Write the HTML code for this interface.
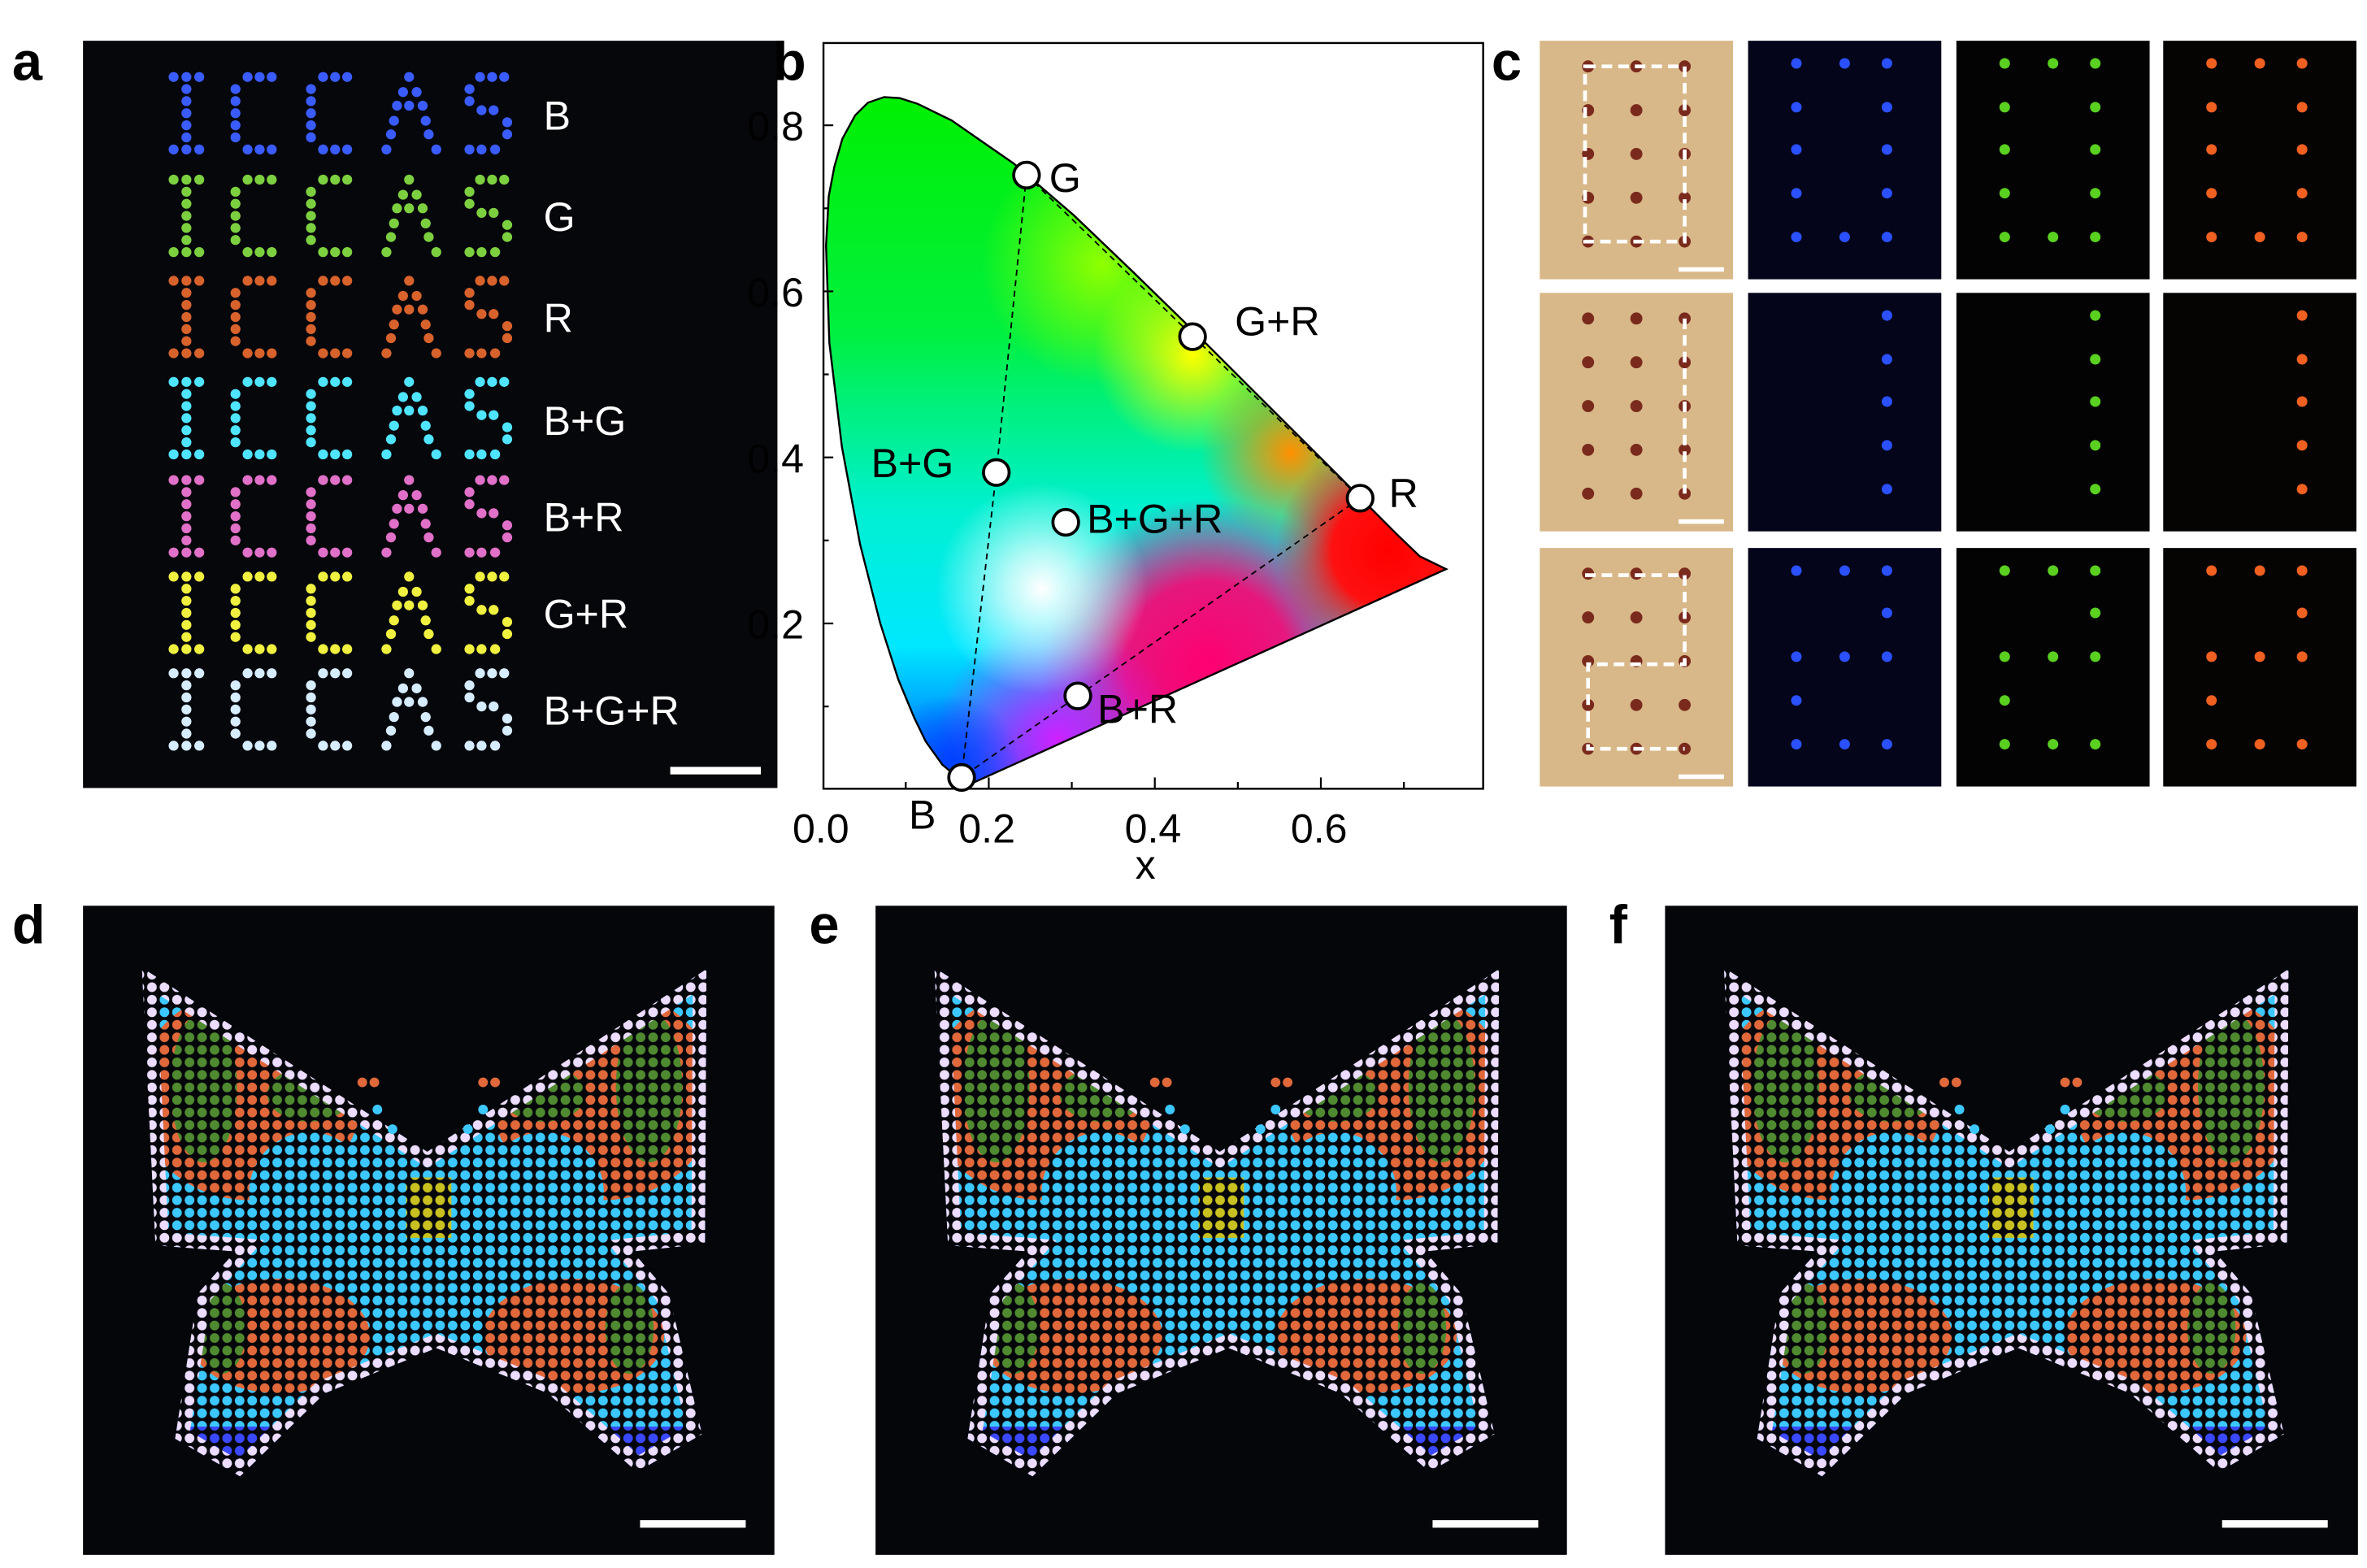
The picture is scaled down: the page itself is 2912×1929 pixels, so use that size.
<!DOCTYPE html>
<html><head><meta charset="utf-8"><style>
html,body{margin:0;padding:0;background:#fff;}
svg{display:block;}
text{font-family:"Liberation Sans",Arial,sans-serif;}
</style></head><body>
<svg width="2912" height="1929" viewBox="0 0 1568 1038.7" preserveAspectRatio="none" xmlns="http://www.w3.org/2000/svg">
<defs>
<clipPath id="loc"><path id="locp" d="M640.8,520.3 L624.2,506.5 L613.2,491.1 L605.5,475.2 L595,449.9 L583,412.5 L569.8,360.8 L557.7,295.9 L549.4,227.1 L547.2,162.8 L549,130 L552.7,110.5 L558,92 L566.5,76.4 L575,68 L585.7,64.3 L596,65 L607.7,68.7 L630.3,79.7 L671.5,108.3 L711.1,142.4 L750.2,179.8 L789.2,217.8 L826.6,255.2 L861.3,289.8 L889.9,318.4 L925,353.6 L940.5,368.5 L958,377 Z"/></clipPath>
<linearGradient id="base" x1="0" y1="60" x2="0" y2="520" gradientUnits="userSpaceOnUse">
<stop offset="0" stop-color="#00f000"/><stop offset="0.35" stop-color="#00f040"/><stop offset="0.6" stop-color="#00f0d0"/><stop offset="0.8" stop-color="#00e8ff"/><stop offset="1" stop-color="#0050ff"/></linearGradient>
<radialGradient id="g1" cx="730" cy="175" r="80" gradientUnits="userSpaceOnUse"><stop offset="0" stop-color="#90ff00"/><stop offset="1" stop-color="#90ff00" stop-opacity="0"/></radialGradient>
<radialGradient id="g2" cx="790" cy="235" r="65" gradientUnits="userSpaceOnUse"><stop offset="0" stop-color="#ffff00"/><stop offset="1" stop-color="#ffff00" stop-opacity="0"/></radialGradient>
<radialGradient id="g3" cx="855" cy="300" r="60" gradientUnits="userSpaceOnUse"><stop offset="0" stop-color="#ff9000"/><stop offset="1" stop-color="#ff9000" stop-opacity="0"/></radialGradient>
<radialGradient id="g4" cx="920" cy="365" r="75" gradientUnits="userSpaceOnUse"><stop offset="0" stop-color="#ff0000"/><stop offset="0.5" stop-color="#ff1010"/><stop offset="1" stop-color="#ff2020" stop-opacity="0"/></radialGradient>
<radialGradient id="g5" cx="800" cy="440" r="110" gradientUnits="userSpaceOnUse"><stop offset="0" stop-color="#ff0070"/><stop offset="0.5" stop-color="#ff0070" stop-opacity="0.9"/><stop offset="1" stop-color="#ff0070" stop-opacity="0"/></radialGradient>
<radialGradient id="g6" cx="700" cy="490" r="80" gradientUnits="userSpaceOnUse"><stop offset="0" stop-color="#d020ff"/><stop offset="1" stop-color="#d020ff" stop-opacity="0"/></radialGradient>
<radialGradient id="g7" cx="690" cy="390" r="70" gradientUnits="userSpaceOnUse"><stop offset="0" stop-color="#ffffff"/><stop offset="0.35" stop-color="#ffffff" stop-opacity="0.7"/><stop offset="1" stop-color="#ffffff" stop-opacity="0"/></radialGradient>
<radialGradient id="g8" cx="630" cy="505" r="45" gradientUnits="userSpaceOnUse"><stop offset="0" stop-color="#0040ff"/><stop offset="1" stop-color="#0040ff" stop-opacity="0"/></radialGradient>

<pattern id="pw" width="8.3" height="8.3" patternUnits="userSpaceOnUse"><rect width="8.3" height="8.3" fill="#05060a"/><circle cx="4.15" cy="4.15" r="3.2" fill="#ecdcff"/></pattern>
<pattern id="pc" width="8.3" height="8.3" patternUnits="userSpaceOnUse"><rect width="8.3" height="8.3" fill="#05060a"/><circle cx="4.15" cy="4.15" r="3.2" fill="#3cc8ff"/></pattern>
<pattern id="po" width="8.3" height="8.3" patternUnits="userSpaceOnUse"><rect width="8.3" height="8.3" fill="#05060a"/><circle cx="4.15" cy="4.15" r="3.2" fill="#e0683a"/></pattern>
<pattern id="pg" width="8.3" height="8.3" patternUnits="userSpaceOnUse"><rect width="8.3" height="8.3" fill="#05060a"/><circle cx="4.15" cy="4.15" r="3.2" fill="#4f8a30"/></pattern>
<pattern id="pb" width="8.3" height="8.3" patternUnits="userSpaceOnUse"><rect width="8.3" height="8.3" fill="#05060a"/><circle cx="4.15" cy="4.15" r="3.2" fill="#3a48ff"/></pattern>
<pattern id="py" width="8.3" height="8.3" patternUnits="userSpaceOnUse"><rect width="8.3" height="8.3" fill="#05060a"/><circle cx="4.15" cy="4.15" r="3.2" fill="#c8c020"/></pattern>
<clipPath id="bf"><path d="M39,41 L228,163 L413,42 L412,224 L364,229 L388,257 L410,350 L367,375 L308,323 L234,293 L160,323 L104,378 L61,353 L76,257 L101,229 L48,225 Z"/></clipPath>
<g id="bfly">
 <g clip-path="url(#bf)">
  <rect width="460" height="430" fill="url(#pc)"/>
  <ellipse cx="110" cy="125" rx="75" ry="70" fill="url(#po)"/>
  <ellipse cx="345" cy="125" rx="75" ry="70" fill="url(#po)"/>
  <ellipse cx="80" cy="120" rx="22" ry="50" fill="url(#pg)"/>
  <ellipse cx="375" cy="120" rx="22" ry="50" fill="url(#pg)"/>
  <ellipse cx="150" cy="125" rx="28" ry="18" fill="url(#pg)"/>
  <ellipse cx="305" cy="125" rx="28" ry="18" fill="url(#pg)"/>
  <ellipse cx="150" cy="190" rx="40" ry="40" fill="url(#pc)"/>
  <ellipse cx="305" cy="190" rx="40" ry="40" fill="url(#pc)"/>
  <ellipse cx="130" cy="285" rx="60" ry="38" fill="url(#po)"/>
  <ellipse cx="325" cy="285" rx="60" ry="38" fill="url(#po)"/>
  <ellipse cx="92" cy="280" rx="16" ry="30" fill="url(#pg)"/>
  <ellipse cx="362" cy="280" rx="16" ry="30" fill="url(#pg)"/>
  <rect x="214" y="180" width="30" height="40" fill="url(#py)"/>
  <rect x="0" y="345" width="460" height="85" fill="url(#pb)"/>
  <path d="M39,41 L228,163 L413,42 L412,224 L364,229 L388,257 L410,350 L367,375 L308,323 L234,293 L160,323 L104,378 L61,353 L76,257 L101,229 L48,225 Z" fill="none" stroke="url(#pw)" stroke-width="18"/>
 </g>
 <g fill="#e0683a"><circle cx="185" cy="117" r="3.2"/><circle cx="193" cy="117" r="3.2"/><circle cx="265" cy="117" r="3.2"/><circle cx="273" cy="117" r="3.2"/></g>
 <g fill="#3cc8ff"><circle cx="195" cy="135" r="3.2"/><circle cx="205" cy="148" r="3.2"/><circle cx="265" cy="135" r="3.2"/><circle cx="255" cy="148" r="3.2"/></g>
</g>
<g id="word">
<circle cx="115" cy="0" r="3.3"/><circle cx="123.5" cy="0" r="3.3"/><circle cx="132" cy="0" r="3.3"/>
<circle cx="123.5" cy="8" r="3.3"/><circle cx="123.5" cy="16" r="3.3"/><circle cx="123.5" cy="24" r="3.3"/><circle cx="123.5" cy="32" r="3.3"/><circle cx="123.5" cy="40" r="3.3"/>
<circle cx="115" cy="48" r="3.3"/><circle cx="123.5" cy="48" r="3.3"/><circle cx="132" cy="48" r="3.3"/>
<circle cx="164" cy="0" r="3.3"/><circle cx="172" cy="0" r="3.3"/><circle cx="180" cy="0" r="3.3"/>
<circle cx="156" cy="8" r="3.3"/><circle cx="156" cy="16" r="3.3"/><circle cx="156" cy="24" r="3.3"/><circle cx="156" cy="32" r="3.3"/><circle cx="156" cy="40" r="3.3"/>
<circle cx="164" cy="48" r="3.3"/><circle cx="172" cy="48" r="3.3"/><circle cx="180" cy="48" r="3.3"/>
<circle cx="214" cy="0" r="3.3"/><circle cx="222" cy="0" r="3.3"/><circle cx="230" cy="0" r="3.3"/>
<circle cx="206" cy="8" r="3.3"/><circle cx="206" cy="16" r="3.3"/><circle cx="206" cy="24" r="3.3"/><circle cx="206" cy="32" r="3.3"/><circle cx="206" cy="40" r="3.3"/>
<circle cx="214" cy="48" r="3.3"/><circle cx="222" cy="48" r="3.3"/><circle cx="230" cy="48" r="3.3"/>
<circle cx="271" cy="0" r="3.3"/><circle cx="267" cy="10" r="3.3"/><circle cx="276" cy="10" r="3.3"/>
<circle cx="263" cy="19" r="3.3"/><circle cx="271" cy="19" r="3.3"/><circle cx="280" cy="19" r="3.3"/>
<circle cx="261" cy="29" r="3.3"/><circle cx="282" cy="29" r="3.3"/><circle cx="259" cy="38" r="3.3"/><circle cx="284" cy="38" r="3.3"/>
<circle cx="256" cy="48" r="3.3"/><circle cx="289" cy="48" r="3.3"/>
<circle cx="318" cy="0" r="3.3"/><circle cx="326" cy="0" r="3.3"/><circle cx="334" cy="0" r="3.3"/>
<circle cx="311" cy="8" r="3.3"/><circle cx="311" cy="16" r="3.3"/><circle cx="319" cy="22" r="3.3"/><circle cx="327" cy="22" r="3.3"/>
<circle cx="336" cy="30" r="3.3"/><circle cx="336" cy="38" r="3.3"/>
<circle cx="311" cy="48" r="3.3"/><circle cx="319" cy="48" r="3.3"/><circle cx="328" cy="48" r="3.3"/>
</g>
</defs>

<!-- panel a -->
<rect x="55" y="27" width="460" height="495" fill="#06070b"/>
<use href="#word" y="51" fill="#3a5cff"/>
<use href="#word" y="119" fill="#7cd040"/>
<use href="#word" y="186" fill="#d8622c"/>
<use href="#word" y="253" fill="#4fe4ff"/>
<use href="#word" y="318" fill="#e070c8"/>
<use href="#word" y="382" fill="#f0f040"/>
<use href="#word" y="446" fill="#d6ecff"/>
<g font-size="27" fill="#fff">
<text x="360" y="86">B</text><text x="360" y="153">G</text><text x="360" y="220">R</text>
<text x="360" y="288">B+G</text><text x="360" y="352">B+R</text><text x="360" y="416">G+R</text><text x="360" y="480">B+G+R</text>
</g>
<rect x="444" y="508" width="60" height="5" fill="#fff"/>
<text x="8" y="53" font-size="36" font-weight="bold">a</text>

<!-- panel b -->
<g clip-path="url(#loc)">
 <rect x="540" y="55" width="430" height="475" fill="url(#base)"/>
 <rect x="540" y="55" width="430" height="475" fill="url(#g1)"/>
 <rect x="540" y="55" width="430" height="475" fill="url(#g2)"/>
 <rect x="540" y="55" width="430" height="475" fill="url(#g3)"/>
 <rect x="540" y="55" width="430" height="475" fill="url(#g5)"/>
 <rect x="540" y="55" width="430" height="475" fill="url(#g4)"/>
 <rect x="540" y="55" width="430" height="475" fill="url(#g6)"/>
 <rect x="540" y="55" width="430" height="475" fill="url(#g8)"/>
 <rect x="540" y="55" width="430" height="475" fill="url(#g7)"/>
</g>
<use href="#locp" fill="none" stroke="#000" stroke-width="1.3"/>
<rect x="545.5" y="28.5" width="437" height="494" fill="none" stroke="#000" stroke-width="1.3"/>
<g stroke="#000" stroke-width="1.2">
<line x1="545" y1="83" x2="552" y2="83"/><line x1="545" y1="193" x2="552" y2="193"/><line x1="545" y1="303" x2="552" y2="303"/><line x1="545" y1="413" x2="552" y2="413"/>
<line x1="545" y1="138" x2="549" y2="138"/><line x1="545" y1="248" x2="549" y2="248"/><line x1="545" y1="358" x2="549" y2="358"/><line x1="545" y1="468" x2="549" y2="468"/>
<line x1="655" y1="522" x2="655" y2="515"/><line x1="765" y1="522" x2="765" y2="515"/><line x1="875" y1="522" x2="875" y2="515"/>
<line x1="600" y1="522" x2="600" y2="518"/><line x1="710" y1="522" x2="710" y2="518"/><line x1="820" y1="522" x2="820" y2="518"/><line x1="930" y1="522" x2="930" y2="518"/>
</g>
<g stroke="#000" stroke-width="1" stroke-dasharray="4 3" fill="none">
<path d="M680,116 L660,313 L637,515"/><path d="M680,116 L901,330"/><path d="M901,330 L637,515"/>
</g>
<g fill="#fff" stroke="#000" stroke-width="2">
<circle cx="680" cy="116" r="8.5"/><circle cx="790" cy="223" r="8.5"/><circle cx="901" cy="330" r="8.5"/>
<circle cx="660" cy="313" r="8.5"/><circle cx="706" cy="346" r="8.5"/><circle cx="714" cy="461" r="8.5"/><circle cx="637" cy="515" r="8.5"/>
</g>
<g font-size="27" fill="#000">
<text x="695" y="127">G</text><text x="818" y="222">G+R</text><text x="920" y="336">R</text>
<text x="577" y="316">B+G</text><text x="720" y="353">B+G+R</text><text x="727" y="479">B+R</text><text x="602" y="549">B</text>
<text x="525" y="558">0.0</text><text x="635" y="558">0.2</text><text x="745" y="558">0.4</text><text x="855" y="558">0.6</text>
<text x="752" y="582">x</text>
<text x="495" y="93">0.8</text><text x="495" y="203">0.6</text><text x="495" y="313">0.4</text><text x="495" y="423">0.2</text>
</g>
<text x="512" y="53" font-size="36" font-weight="bold">b</text>

<!-- panel c -->
<text x="988" y="53" font-size="36" font-weight="bold">c</text>
<g id="crow">
<rect x="1020" y="27" width="128" height="158" fill="#d8b888"/>
<rect x="1158" y="27" width="128" height="158" fill="#04051a"/>
<rect x="1296" y="27" width="128" height="158" fill="#030303"/>
<rect x="1433" y="27" width="128" height="158" fill="#060303"/>
<g fill="#7a2a1c">
<circle cx="1052" cy="44" r="4"/><circle cx="1084" cy="44" r="4"/><circle cx="1116" cy="44" r="4"/>
<circle cx="1052" cy="73" r="4"/><circle cx="1084" cy="73" r="4"/><circle cx="1116" cy="73" r="4"/>
<circle cx="1052" cy="102" r="4"/><circle cx="1084" cy="102" r="4"/><circle cx="1116" cy="102" r="4"/>
<circle cx="1052" cy="131" r="4"/><circle cx="1084" cy="131" r="4"/><circle cx="1116" cy="131" r="4"/>
<circle cx="1052" cy="160" r="4"/><circle cx="1084" cy="160" r="4"/><circle cx="1116" cy="160" r="4"/>
</g>
<rect x="1112" y="177" width="30" height="3" fill="#fff"/>
</g>
<use href="#crow" y="167"/><use href="#crow" y="336"/>
<g fill="none" stroke="#fff" stroke-width="2.5" stroke-dasharray="7 4">
<rect x="1050" y="44" width="66" height="116"/>
<path d="M1116,211 V327"/>
<path d="M1050,381 H1116 V440 H1052 V496 H1116"/>
</g>
<g id="d0">
<circle cx="1190" cy="42" r="3.5"/><circle cx="1222" cy="42" r="3.5"/><circle cx="1250" cy="42" r="3.5"/>
<circle cx="1190" cy="71" r="3.5"/><circle cx="1250" cy="71" r="3.5"/>
<circle cx="1190" cy="99" r="3.5"/><circle cx="1250" cy="99" r="3.5"/>
<circle cx="1190" cy="128" r="3.5"/><circle cx="1250" cy="128" r="3.5"/>
<circle cx="1190" cy="157" r="3.5"/><circle cx="1222" cy="157" r="3.5"/><circle cx="1250" cy="157" r="3.5"/>
</g>
<g id="d1">
<circle cx="1250" cy="209" r="3.5"/><circle cx="1250" cy="238" r="3.5"/><circle cx="1250" cy="266" r="3.5"/><circle cx="1250" cy="295" r="3.5"/><circle cx="1250" cy="324" r="3.5"/>
</g>
<g id="d2">
<circle cx="1190" cy="378" r="3.5"/><circle cx="1222" cy="378" r="3.5"/><circle cx="1250" cy="378" r="3.5"/>
<circle cx="1250" cy="406" r="3.5"/>
<circle cx="1190" cy="435" r="3.5"/><circle cx="1222" cy="435" r="3.5"/><circle cx="1250" cy="435" r="3.5"/>
<circle cx="1190" cy="464" r="3.5"/>
<circle cx="1190" cy="493" r="3.5"/><circle cx="1222" cy="493" r="3.5"/><circle cx="1250" cy="493" r="3.5"/>
</g>
<g fill="#2a50ff"><use href="#d0"/><use href="#d1"/><use href="#d2"/></g>
<g fill="#5ad020" transform="translate(138,0)"><use href="#d0"/><use href="#d1"/><use href="#d2"/></g>
<g fill="#f06020" transform="translate(275,0)"><use href="#d0"/><use href="#d1"/><use href="#d2"/></g>

<!-- panels d e f -->
<text x="8" y="625" font-size="36" font-weight="bold">d</text>
<text x="536" y="625" font-size="36" font-weight="bold">e</text>
<text x="1066" y="625" font-size="36" font-weight="bold">f</text>
<rect x="55" y="600" width="458" height="430" fill="#05060a"/>
<rect x="580" y="600" width="458" height="430" fill="#05060a"/>
<rect x="1103" y="600" width="459" height="430" fill="#05060a"/>
<use href="#bfly" x="55" y="600"/>
<use href="#bfly" x="580" y="600"/>
<use href="#bfly" x="1103" y="600"/>
<rect x="424" y="1007" width="70" height="5" fill="#fff"/>
<rect x="949" y="1007" width="70" height="5" fill="#fff"/>
<rect x="1472" y="1007" width="70" height="5" fill="#fff"/>
</svg>
</body></html>
